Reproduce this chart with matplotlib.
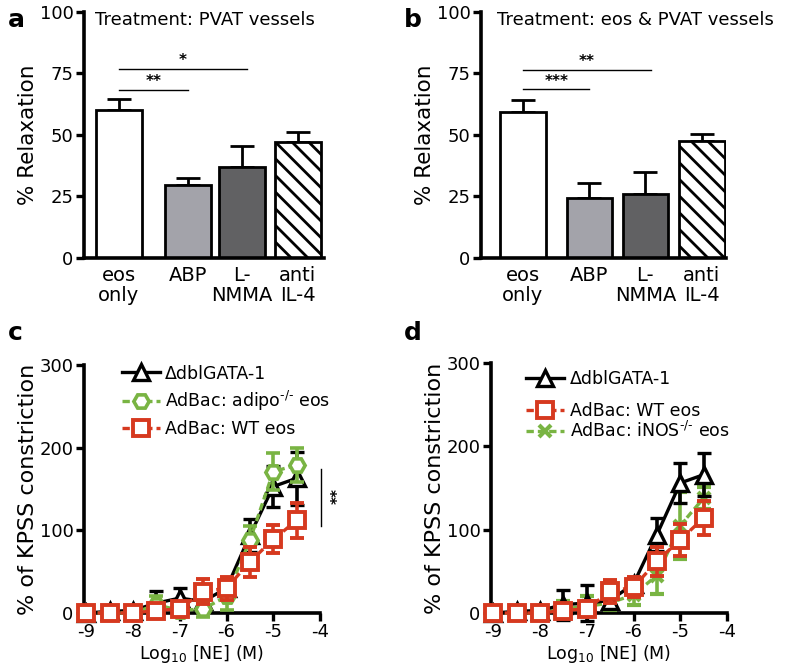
import matplotlib
matplotlib.use("Agg")
import matplotlib.pyplot as plt
import numpy as np

plt.rcParams['font.family'] = ['DejaVu Sans']
plt.rcParams['mathtext.fontset'] = 'dejavusans'
plt.rcParams['axes.unicode_minus'] = False
plt.rcParams['hatch.linewidth'] = 2.0

# ---------------- data ----------------
bar_categories = ['eos\nonly', 'ABP', 'L-\nNMMA', 'anti\nIL-4']
a_means = [60, 29.5, 37, 47.3]
a_errs = [4.5, 3.2, 8.5, 3.9]
b_means = [59.5, 24.3, 26.2, 47.6]
b_errs = [4.7, 6.3, 8.7, 3.0]
a_title = 'Treatment: PVAT vessels'
b_title = 'Treatment: eos & PVAT vessels'
a_sig = [('**', 1, 68.2), ('*', 2, 77.0)]
b_sig = [('***', 1, 68.5), ('**', 2, 76.6)]

log_ne = [-9, -8.5, -8, -7.5, -7, -6.5, -6, -5.5, -5, -4.5]

c_black = [0, 2, 3, 12, 18, 14, 30, 94, 153, 163]
c_black_err = [1, 1, 1, 15, 12, 5, 10, 20, 25, 32]
c_green = [0, 0, 0, 10, 3, 5, 20, 88, 171, 179]
c_green_err = [1, 1, 1, 10, 3, 10, 16, 17, 22, 20]
c_red = [0, 0, 0, 3, 5, 26, 30, 62, 89, 112]
c_red_err = [1, 1, 1, 3, 3, 15, 14, 18, 17, 21]

d_black = [0, 2, 3, 10, 12, 15, 35, 94, 156, 166]
d_black_err = [1, 1, 1, 18, 22, 5, 8, 20, 24, 26]
d_red = [0, 0, 0, 3, 5, 26, 31, 62, 88, 114]
d_red_err = [1, 1, 1, 3, 3, 14, 12, 17, 19, 20]
d_green = [0, 0, 0, 5, 8, 12, 22, 45, 105, 138]
d_green_err = [1, 1, 1, 10, 12, 8, 12, 22, 40, 13]

lbl_black = '\u0394dblGATA-1'
lbl_adipo = 'AdBac: adipo$^{\\text{-/-}}$ eos'
lbl_wt = 'AdBac: WT eos'
lbl_inos = 'AdBac: iNOS$^{\\text{-/-}}$ eos'

# ---------------- style ----------------
RED = '#d6391f'
GREEN = '#79b443'
BAR_FACES = ['white', '#a3a3aa', '#616163', 'white']
BAR_HATCH = [None, None, None, '\\\\']
TICK_FS = 13
LEG_FS = 12.5

fig = plt.figure(figsize=(7.87, 6.64), dpi=100)
W, H = 787, 664


def px_axes(l, t, r, b):
    return fig.add_axes([l / W, 1 - b / H, (r - l) / W, (b - t) / H])


def style_axes(ax):
    for s in ['top', 'right']:
        ax.spines[s].set_visible(False)
    for s in ['left', 'bottom']:
        ax.spines[s].set_linewidth(2.6)
    ax.tick_params(axis='both', width=2.4, length=5.5, labelsize=TICK_FS, pad=2)


def bar_panel(ax, positions, xmax, means, errs, sig, title, letter, letter_x, title_x):
    style_axes(ax)
    for i, (p, m, e) in enumerate(zip(positions, means, errs)):
        ax.bar(p, m, width=0.8, color=BAR_FACES[i], edgecolor='black',
               linewidth=2.0, hatch=BAR_HATCH[i], zorder=2)
        ax.errorbar(p, m, yerr=[[0], [e]], fmt='none', ecolor='black',
                    elinewidth=2.0, capsize=8.5, capthick=2.0, zorder=1)
    ax.set_xlim(0, xmax)
    ax.set_ylim(0, 100)
    ax.set_yticks([0, 25, 50, 75, 100])
    ax.set_xticks(positions)
    ax.set_xticklabels(bar_categories, fontsize=14, linespacing=1.05)
    ax.tick_params(axis='x', length=0, pad=6)
    ax.set_ylabel('% Relaxation', fontsize=15.5, labelpad=1)
    for txt, j, y in sig:
        x0, x1 = positions[0], positions[j] + (0.1 if j == 2 else 0)
        ax.plot([x0, x1], [y, y], color='black', lw=1.0, clip_on=False)
        ax.text((x0 + x1) / 2, y + 0.3, txt, ha='center', va='bottom',
                fontsize=11, fontweight='bold')
    ax.text(title_x, 0.967, title, transform=ax.transAxes, fontsize=13,
            ha='left', va='center')
    fig.text(letter_x / W, 1 - 20 / H, letter, fontsize=18, fontweight='bold',
             ha='left', va='center')


def curve(ax, y, err, color, marker, ls, ms, mew, label, z):
    kw = dict(dashes=(2.2, 1.2)) if ls == '--' else {}
    cont = ax.errorbar(log_ne, y, yerr=err, color=color, marker=marker, ls=ls,
                       lw=2.4, ms=ms, mew=mew, mfc='white', mec=color,
                       elinewidth=2.6, capsize=5, capthick=3, label=label,
                       zorder=z, clip_on=False, **kw)
    return cont[0]


def curve_panel(ax, letter, letter_x):
    style_axes(ax)
    ax.set_xlim(-9.05, -4)
    ax.set_ylim(0, 300)
    ax.set_yticks([0, 100, 200, 300])
    ax.set_xticks([-9, -8, -7, -6, -5, -4])
    ax.set_ylabel('% of KPSS constriction', fontsize=16, labelpad=1)
    ax.set_xlabel('Log$_{10}$ [NE] (M)', fontsize=12.5, labelpad=1)
    fig.text(letter_x / W, 1 - 333 / H, letter, fontsize=18, fontweight='bold',
             ha='left', va='center')


LEG_KW = dict(loc='upper left', frameon=False, fontsize=LEG_FS,
              handlelength=2.2, handletextpad=0.3, borderaxespad=0)

# ---------------- panel a ----------------
ax_a = px_axes(84, 12, 324, 258)
bar_panel(ax_a, [0.6, 1.807, 2.737, 3.71], 4.17, a_means, a_errs, a_sig,
          a_title, 'a', 8, 0.045)

# ---------------- panel b ----------------
ax_b = px_axes(481, 12, 726, 258)
bar_panel(ax_b, [0.737, 1.904, 2.886, 3.877], 4.3, b_means, b_errs, b_sig,
          b_title, 'b', 404, 0.065)

# ---------------- panel c ----------------
ax_c = px_axes(84, 365, 320, 613)
curve_panel(ax_c, 'c', 8)
hc1 = curve(ax_c, c_black, c_black_err, 'black', '^', '-', 11, 2.4, lbl_black, 3)
hc2 = curve(ax_c, c_green, c_green_err, GREEN, 'H', '--', 11, 2.6, lbl_adipo, 4)
hc3 = curve(ax_c, c_red, c_red_err, RED, 's', '--', 11, 2.8, lbl_wt, 5)
ax_c.legend([hc1, hc2, hc3], [lbl_black, lbl_adipo, lbl_wt],
            bbox_to_anchor=(0.13, 1.03), labelspacing=0.38, **LEG_KW)
ax_c.plot([-3.98, -3.98], [105, 174], color='black', lw=1.0, clip_on=False)
ax_c.text(-3.82, 140, '**', rotation=270, ha='center', va='center',
          fontsize=11, fontweight='bold', clip_on=False)

# ---------------- panel d ----------------
ax_d = px_axes(491, 363, 727, 613)
curve_panel(ax_d, 'd', 404)
g = ax_d.errorbar(log_ne, d_green, yerr=d_green_err, color=GREEN, marker='x',
                  ls='--', dashes=(2.2, 1.2), lw=2.4, ms=9, mew=3,
                  elinewidth=2.6, capsize=5, capthick=3, label=lbl_inos,
                  zorder=3, clip_on=False)
hd3 = g[0]
hd1 = curve(ax_d, d_black, d_black_err, 'black', '^', '-', 11, 2.4, lbl_black, 4)
hd2 = curve(ax_d, d_red, d_red_err, RED, 's', '--', 11, 2.8, lbl_wt, 5)
leg1 = ax_d.legend([hd1], [lbl_black], bbox_to_anchor=(0.12, 1.0), **LEG_KW)
ax_d.add_artist(leg1)
ax_d.legend([hd2, hd3], [lbl_wt, lbl_inos], bbox_to_anchor=(0.12, 0.87),
            labelspacing=0.05, **LEG_KW)

fig.savefig('out.png', dpi=100)
